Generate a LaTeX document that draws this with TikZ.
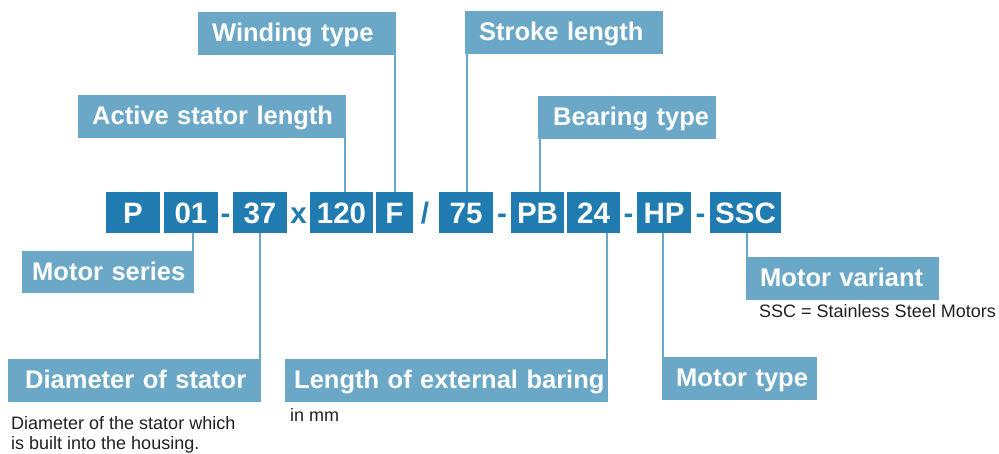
\documentclass[tikz,border=0pt]{standalone}
\usepackage{fontspec}
\setmainfont{Liberation Sans}
\usetikzlibrary{calc}
\definecolor{codeblue}{RGB}{31,123,176}
\definecolor{lblblue}{RGB}{107,168,200}
\definecolor{notegray}{RGB}{35,31,32}
\begin{document}
\begin{tikzpicture}[x=1pt,y=-1pt,
  codebox/.style={fill=codeblue, text=white, inner sep=0pt, minimum height=41pt,
    text height=21.5pt, text depth=0pt, font=\fontsize{29.5}{32}\selectfont\bfseries},
  sep/.style={text=codeblue, inner sep=0pt, anchor=base, font=\fontsize{29.5}{32}\selectfont\bfseries},
  lbl/.style={fill=lblblue, text=white, anchor=north west, inner ysep=11.4pt,
    text height=18.3pt, text depth=1.9pt, align=left, font=\fontsize{25.5}{28}\selectfont\bfseries},
  conn/.style={draw=lblblue, line width=2pt},
  note/.style={text=notegray, inner sep=0pt, anchor=base west, font=\fontsize{18}{20}\selectfont}]
\useasboundingbox (0,0) rectangle (999,453);

% code boxes
\node[codebox, minimum width=54pt] (cP)   at (133,212.5)   {P};
\node[codebox, minimum width=54pt] (c01)  at (191,212.5)   {01};
\node[codebox, minimum width=54pt] (c37)  at (260,212.5)   {37};
\node[codebox, minimum width=63pt] (c120) at (341.5,212.5) {120};
\node[codebox, minimum width=37pt] (cF)   at (394.5,212.5) {F};
\node[codebox, minimum width=54pt] (c75)  at (466,212.5)   {75};
\node[codebox, minimum width=53pt] (cPB)  at (537.5,212.5) {PB};
\node[codebox, minimum width=53pt] (c24)  at (593.5,212.5) {24};
\node[codebox, minimum width=54pt] (cHP)  at (664,212.5)   {HP};
\node[codebox, minimum width=71pt] (cSSC) at (745.5,212.5) {SSC};

% separators
\node[sep] (s1) at (225.5,223.3) {-};
\node[sep] (s2) at (298.5,223.3) {x};
\node[sep] (s3) at (425,223.3) {/};
\node[sep] (s4) at (502,223.3) {-};
\node[sep] (s5) at (628.5,223.3) {-};
\node[sep] (s6) at (700.5,223.3) {-};

% labels
\node[lbl, inner xsep=14pt, text width=170pt] (wt)  at (198,12)  {Winding type};
\node[lbl, inner xsep=14pt, text width=240pt] (asl) at (78,95)   {\mbox{Active stator length}};
\node[lbl, inner xsep=14pt, text width=170pt] (sl)  at (465,11)  {Stroke length};
\node[lbl, inner xsep=15pt, text width=148pt] (bt)  at (538,96)  {\mbox{Bearing type}};
\node[lbl, inner xsep=10pt, text width=152pt, inner ysep=10.9pt] (ms) at (22,251) {\mbox{Motor series}};
\node[lbl, inner xsep=17pt, text width=219pt] (ds)  at (8,359)   {\mbox{Diameter of stator}};
\node[lbl, inner xsep=9pt,  text width=305pt] (lb)  at (285,359) {\mbox{Length of external baring}};
\node[lbl, inner xsep=14pt, text width=127pt] (mt)  at (662,357) {\mbox{Motor type}};
\node[lbl, inner xsep=14pt, text width=165pt] (mv)  at (746,257) {\mbox{Motor variant}};

% connectors
\draw[conn] ($(asl.south east)+(-1.5,0)$) -- ($(asl.south east |- c120.north)+(-1.5,0)$);
\draw[conn] ($(wt.south east)+(-1.5,0)$) -- ($(wt.south east |- cF.north)+(-1.5,0)$);
\draw[conn] ($(sl.south west)+(1.5,0)$) -- ($(sl.south west |- c75.north)+(1.5,0)$);
\draw[conn] ($(bt.south west)+(1.5,0)$) -- ($(bt.south west |- cPB.north)+(1.5,0)$);
\draw[conn] ($(c01.south -| ms.north east)+(-1.5,0)$) -- ($(ms.north east)+(-1.5,0)$);
\draw[conn] ($(c37.south -| ds.north east)+(-1,0)$) -- ($(ds.north east)+(-1,0)$);
\draw[conn] ($(c24.south -| lb.north east)+(-1,0)$) -- ($(lb.north east)+(-1,0)$);
\draw[conn] ($(cHP.south -| mt.north west)+(1,0)$) -- ($(mt.north west)+(1,0)$);
\draw[conn] ($(cSSC.south -| mv.north west)+(1,0)$) -- ($(mv.north west)+(1,0)$);

% notes
\node[note] (n1) at (11,429) {Diameter of the stator which};
\node[note] (n2) at (11,449) {is built into the housing.};
\node[note] (n3) at (290,421.5) {in mm};
\node[note] (n4) at (759,317.7) {SSC = Stainless Steel Motors};
\end{tikzpicture}
\end{document}
